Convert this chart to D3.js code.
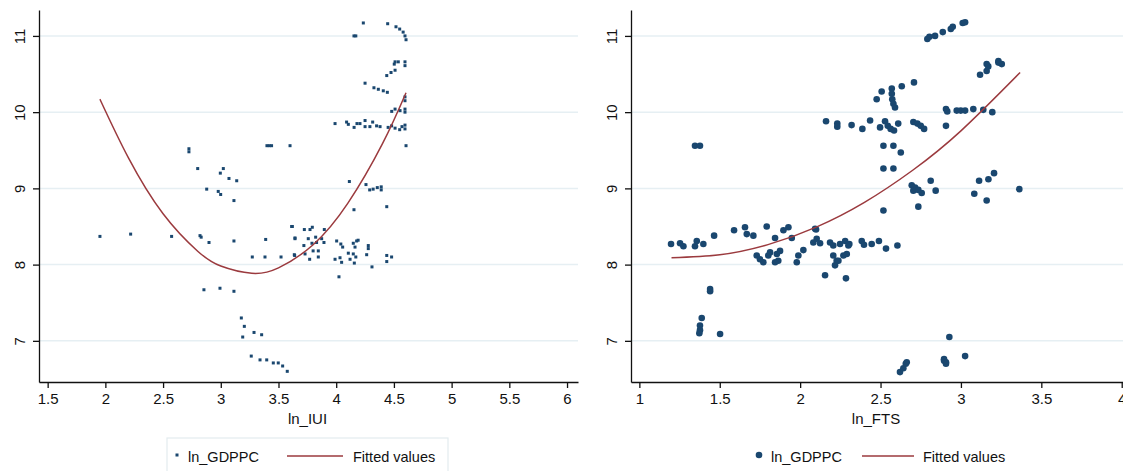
<!DOCTYPE html>
<html>
<head>
<meta charset="utf-8">
<script src="https://cdn.jsdelivr.net/npm/d3@7"></script>
<style>
  body { margin: 0; background: #fff; }
  svg { display: block; font-family: "Liberation Sans", Arial, sans-serif; }
  .tick text { fill: #111; }
</style>
</head>
<body>
<div id="chart"></div>
<script>
// ---- data ----
// left panel: ln_GDPPC against ln_IUI
var iuiX = [1.953, 2.219, 2.574, 2.82, 2.83, 2.724, 2.724, 2.80, 2.878, 2.978, 2.999, 2.996, 3.022, 3.071, 3.138, 3.114,
    3.40, 3.42, 3.44, 3.60, 3.62, 3.643, 3.389, 2.898, 3.114, 3.273, 3.383, 3.522, 3.637, 2.854, 2.993, 3.114,
    3.178, 3.204, 3.19, 3.288, 3.354, 3.264, 3.34, 3.398, 3.455, 3.498, 3.536, 3.576,
    4.154, 4.17, 4.235, 4.446, 4.518, 4.55, 4.58, 4.596, 4.605, 4.503, 4.51, 4.538, 4.596, 4.596,
    4.438, 4.475, 4.51, 4.25, 4.327, 4.365, 4.408, 4.443, 4.596, 4.596, 4.481, 4.51, 4.553, 4.596, 4.596,
    3.99, 4.09, 4.105, 4.155, 4.18, 4.206, 4.25, 4.25, 4.292, 4.316, 4.35, 4.38, 4.45, 4.48, 4.51, 4.55, 4.57, 4.596, 4.596,
    4.605, 4.114, 4.258, 4.29, 4.32, 4.356, 4.39, 4.39, 4.154, 4.438,
    3.614, 3.724, 3.773, 3.793, 3.897, 3.643, 3.72, 3.758, 3.822, 3.83, 3.79, 3.874, 3.894, 3.80, 3.845, 3.73, 3.77, 3.845, 3.64,
    4.004, 4.04, 4.056, 4.148, 4.177, 4.19, 4.163, 4.105, 4.148, 4.17, 4.278, 4.278, 4.264, 3.99, 4.033, 4.047, 4.12, 4.157,
    4.024, 4.31, 4.438, 4.48, 4.438];
var iuiY = [8.37, 8.40, 8.37, 8.38, 8.36, 9.48, 9.52, 9.26, 8.99, 8.96, 8.92, 9.20, 9.26, 9.13, 9.10, 8.84,
    9.56, 9.56, 9.56, 9.56, 8.50, 8.35, 8.33, 8.29, 8.31, 8.10, 8.10, 8.10, 8.13, 7.67, 7.69, 7.65,
    7.30, 7.19, 7.05, 7.11, 7.08, 6.80, 6.75, 6.75, 6.71, 6.71, 6.67, 6.60,
    11.0, 11.0, 11.17, 11.16, 11.12, 11.09, 11.05, 11.0, 10.95, 10.63, 10.66, 10.66, 10.66, 10.61,
    10.48, 10.52, 10.55, 10.38, 10.32, 10.30, 10.28, 10.26, 10.20, 10.15, 10.01, 10.04, 10.02, 10.04, 10.0,
    9.85, 9.87, 9.84, 9.80, 9.85, 9.85, 9.89, 9.81, 9.81, 9.87, 9.82, 9.81, 9.80, 9.82, 9.79, 9.77, 9.81, 9.83, 9.78,
    9.56, 9.09, 9.05, 8.98, 8.99, 9.01, 9.02, 8.98, 8.72, 8.76,
    8.50, 8.46, 8.46, 8.49, 8.46, 8.34, 8.25, 8.34, 8.36, 8.29, 8.28, 8.34, 8.29, 8.18, 8.18, 8.14, 8.07, 8.10, 8.12,
    8.31, 8.27, 8.23, 8.28, 8.31, 8.32, 8.23, 8.15, 8.14, 8.10, 8.25, 8.21, 8.13, 8.07, 8.09, 8.03, 8.07, 8.02,
    7.84, 7.97, 8.12, 8.10, 8.04];
// quadratic fitted values (left)
var iuiFitX = [1.953, 2.2, 2.5, 2.8, 3.0, 3.268, 3.5, 3.8, 4.1, 4.4, 4.605];
var iuiFitY = [10.17, 9.40, 8.667, 8.176, 7.981, 7.886, 7.957, 8.261, 8.803, 9.583, 10.255];

// right panel: ln_GDPPC against ln_FTS
var ftsX = [1.346, 1.377, 2.161, 2.231, 2.231, 2.32, 1.465, 1.589, 1.657, 1.668, 1.709, 1.792, 1.896, 1.927, 2.099, 1.844,
    1.197, 1.253, 1.274, 1.346, 1.357, 1.398, 1.948, 1.73, 1.75, 1.771, 1.802, 1.813, 1.855, 1.864, 1.844, 1.875,
    1.979, 1.989, 2.02, 2.093, 2.103, 2.082, 2.124, 2.186, 2.206, 2.206, 2.227, 2.217, 2.155,
    1.44, 1.44, 1.388, 1.377, 1.377, 1.373, 1.502, 2.285, 2.238, 2.29, 2.306, 2.28, 2.248, 2.30, 2.269,
    2.383, 2.397, 2.445, 2.49, 2.534, 2.605, 2.621, 2.642, 2.657, 2.663, 2.928, 2.895, 2.907, 2.895, 2.907, 3.026,
    2.791, 2.804, 2.839, 2.887, 2.937, 2.949, 3.011, 3.026, 3.119, 3.16, 3.16, 3.17, 3.233, 3.254, 3.233,
    2.476, 2.507, 2.57, 2.57, 2.573, 2.58, 2.59, 2.632, 2.708, 2.518, 2.58, 2.626, 2.518, 2.58, 2.518,
    2.907, 2.915, 2.974, 2.999, 3.026, 3.077, 3.139, 3.195, 2.907,
    2.694, 2.715, 2.704, 2.735, 2.756, 2.812, 2.843, 2.735, 3.113, 3.171, 3.206, 3.083, 3.16, 3.363,
    2.387, 2.435, 2.497, 2.528, 2.545, 2.563, 2.584, 2.61, 2.704, 2.729, 2.75, 2.771];
var ftsY = [9.56, 9.56, 9.88, 9.85, 9.81, 9.83, 8.38, 8.45, 8.49, 8.40, 8.38, 8.50, 8.45, 8.49, 8.46, 8.35,
    8.27, 8.28, 8.24, 8.24, 8.31, 8.27, 8.35, 8.12, 8.07, 8.03, 8.12, 8.16, 8.14, 8.05, 8.03, 8.18,
    8.03, 8.12, 8.19, 8.47, 8.34, 8.29, 8.28, 8.29, 8.25, 8.12, 8.05, 7.99, 7.86,
    7.68, 7.65, 7.30, 7.20, 7.14, 7.10, 7.09, 7.82, 8.05, 8.14, 8.27, 8.31, 8.27, 8.25, 8.12,
    8.31, 8.26, 8.27, 8.31, 8.21, 8.25, 6.59, 6.64, 6.70, 6.72, 7.05, 6.76, 6.72, 6.74, 6.70, 6.80,
    10.96, 10.99, 11.0, 11.05, 11.09, 11.12, 11.17, 11.18, 10.49, 10.54, 10.63, 10.60, 10.67, 10.63, 10.65,
    10.17, 10.27, 10.31, 10.24, 10.17, 10.11, 10.06, 10.34, 10.39, 9.56, 9.56, 9.47, 9.26, 9.26, 8.71,
    10.04, 10.01, 10.02, 10.02, 10.02, 10.04, 10.03, 10.0, 9.82,
    9.04, 9.01, 8.97, 8.98, 8.94, 9.10, 8.97, 8.76, 9.10, 9.12, 9.20, 8.93, 8.84, 8.99,
    9.78, 9.89, 9.80, 9.88, 9.82, 9.78, 9.76, 9.85, 9.87, 9.85, 9.82, 9.78];
// quadratic fitted values (right)
var ftsFitX = [1.2, 1.5, 1.8, 2.1, 2.4, 2.7, 3.0, 3.368];
var ftsFitY = [8.09, 8.128, 8.262, 8.492, 8.817, 9.238, 9.755, 10.52];

var yTicks = [7, 8, 9, 10, 11];
var iuiTicks = [1.5, 2, 2.5, 3, 3.5, 4, 4.5, 5, 5.5, 6];
var ftsTicks = [1, 1.5, 2, 2.5, 3, 3.5, 4];
var legendLabels = ["ln_GDPPC", "Fitted values"];

var W = 1123, H = 471;
var navy = "#1a476f", maroon = "#9b3a3e", grid = "#e6eff3";

var svg = d3.select("#chart").append("svg")
    .attr("width", W)
    .attr("height", H);

var y = d3.scaleLinear().domain([6.46, 11.34]).range([382, 10]);

var panels = [
    {xs: iuiX, ys: iuiY, fx: iuiFitX, fy: iuiFitY, ticks: iuiTicks, title: "ln_IUI",
     x: d3.scaleLinear().domain([1.425, 6.095]).range([39, 578]), small: true},
    {xs: ftsX, ys: ftsY, fx: ftsFitX, fy: ftsFitY, ticks: ftsTicks, title: "ln_FTS",
     x: d3.scaleLinear().domain([0.948, 4.008]).range([631, 1123]), small: false}
];

panels.forEach(function(p) {
    var x = p.x,
        x0 = x.range()[0], x1 = x.range()[1];
    var g = svg.append("g");

    // grid
    g.selectAll(".grid")
        .data(yTicks)
        .enter().append("line")
        .attr("x1", x0).attr("x2", x1)
        .attr("y1", function(d) { return y(d); })
        .attr("y2", function(d) { return y(d); })
        .attr("stroke", grid)
        .attr("stroke-width", 1.5);

    // points
    var pts = p.xs.map(function(v, i) { return [v, p.ys[i]]; });
    if (p.small) {
        g.selectAll(".pt")
            .data(pts)
            .enter().append("rect")
            .attr("x", function(d) { return x(d[0]) - 1.5; })
            .attr("y", function(d) { return y(d[1]) - 1.5; })
            .attr("width", 3).attr("height", 3)
            .attr("fill", navy);
    } else {
        g.selectAll(".pt")
            .data(pts)
            .enter().append("circle")
            .attr("cx", function(d) { return x(d[0]); })
            .attr("cy", function(d) { return y(d[1]); })
            .attr("r", 3.3)
            .attr("fill", navy);
    }

    // fitted curve
    var fit = p.fx.map(function(v, i) { return [v, p.fy[i]]; });
    g.append("path")
        .datum(fit)
        .attr("fill", "none")
        .attr("stroke", maroon)
        .attr("stroke-width", 1.5)
        .attr("d", d3.line()
            .x(function(d) { return x(d[0]); })
            .y(function(d) { return y(d[1]); })
            .curve(d3.curveNatural));

    // axes
    var xAxis = g.append("g")
        .attr("transform", "translate(0,382)")
        .call(d3.axisBottom(x).tickValues(p.ticks).tickSize(6).tickSizeOuter(0)
            .tickFormat(function(d) { return d; }));
    xAxis.selectAll("text").attr("font-size", 15).attr("dy", null).attr("y", 22);

    var yAxis = g.append("g")
        .attr("transform", "translate(" + x0 + ",0)")
        .call(d3.axisLeft(y).tickValues(yTicks).tickSize(6).tickSizeOuter(0)
            .tickFormat(d3.format("d")));
    yAxis.selectAll("text")
        .attr("font-size", 15)
        .attr("text-anchor", "middle")
        .attr("x", null).attr("dy", null)
        .attr("transform", "translate(-14,0) rotate(-90)");

    svg.selectAll(".domain, .tick line")
        .attr("stroke", "#111")
        .attr("stroke-width", 1.3);

    g.append("text")
        .attr("x", (x0 + x1) / 2 - 1)
        .attr("y", 424)
        .attr("text-anchor", "middle")
        .attr("font-size", 15)
        .attr("fill", "#111")
        .text(p.title);
});

// legends
var legends = [
    {box: [167, 438, 281, 40], sym: 177, txt: 188, l0: 287, l1: 343, t2: 353, small: true},
    {box: null, sym: 759, txt: 771, l0: 862, l1: 914, t2: 923, small: false}
];
legends.forEach(function(l) {
    var g = svg.append("g");
    if (l.box) {
        g.append("rect")
            .attr("x", l.box[0]).attr("y", l.box[1])
            .attr("width", l.box[2]).attr("height", l.box[3])
            .attr("fill", "#fff")
            .attr("stroke", "#e3ecef")
            .attr("stroke-width", 1.2);
    }
    if (l.small) {
        g.append("rect").attr("x", l.sym - 1.5).attr("y", 453.5).attr("width", 3).attr("height", 3).attr("fill", navy);
    } else {
        g.append("circle").attr("cx", l.sym).attr("cy", 455).attr("r", 3.3).attr("fill", navy);
    }
    g.append("text").attr("x", l.txt).attr("y", 462).attr("font-size", 14.5).attr("fill", "#111").text(legendLabels[0]);
    g.append("line").attr("x1", l.l0).attr("x2", l.l1).attr("y1", 456).attr("y2", 456)
        .attr("stroke", maroon).attr("stroke-width", 1.5);
    g.append("text").attr("x", l.t2).attr("y", 462).attr("font-size", 14.5).attr("fill", "#111").text(legendLabels[1]);
});
</script>
</body>
</html>
